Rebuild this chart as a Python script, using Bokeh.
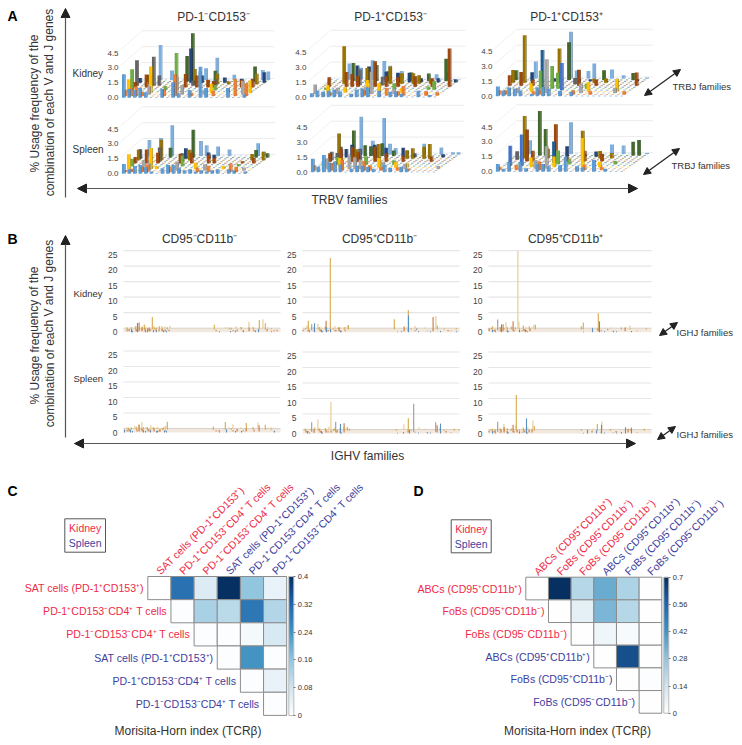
from bokeh.plotting import figure
from bokeh.embed import file_html
from bokeh.resources import INLINE
from bokeh.models import Range1d, ColumnDataSource, LinearColorMapper, ColorBar, FixedTicker, Arrow, NormalHead
from bokeh.core.properties import value

FONT = "Liberation Sans"
W, H = 740, 742

# ---------- Panel A: (V family, J family, % usage) ----------
TRBJ_COLORS = ["#5B9BD5", "#ED7D31", "#A5A5A5", "#FFC000", "#4472C4", "#70AD47", "#255E91",
               "#9E480E", "#636363", "#997300", "#264478", "#43682B", "#7CAFDD"]
A_kidney_neg = [(0,0,2.2),(1,0,.8),(2,0,.7),(3,0,.9),(4,0,.5),(7,0,.8),(9,0,1.45),(10,0,.4),(12,0,.7),(14,0,2.9),(15,0,.9),(19,0,.9),(22,0,.3),
 (0,1,.6),(1,1,.75),(2,1,.9),(3,1,.4),(7,1,.65),(9,1,2.05),(12,1,.3),(16,1,.5),(20,1,1.6),(22,1,1.2),
 (0,3,1.3),(4,3,2.5),(8,3,.35),(15,3,.85),(22,3,1.2),(18,3,.4),(4,2,.75),(9,2,1.7),(10,2,.9),(21,2,1.3),(14,2,.4),
 (0,5,1.97),(8,5,3.5),(15,5,.5),(6,5,.4),(0,8,2.4),(3,8,2.75),(4,8,.97),(10,8,.5),(14,8,.6),
 (0,7,.5),(2,7,1.2),(9,7,1.25),(11,7,1.1),(13,7,.7),(14,7,.6),(19,7,.7),(21,7,.8),
 (0,10,.45),(9,10,3.25),(11,10,.7),(15,10,.5),(22,10,1.0),(18,10,.4),(1,11,.6),(8,11,2.4),(9,11,4.55),(13,11,1.0),(20,11,1.4),
 (2,9,.9),(10,9,1.45),(14,9,1.0),(16,9,.3),(21,9,1.0),(3,12,3.3),(5,12,.9),(10,12,.8),(11,12,1.1),(13,12,2.1),(16,12,.5),(21,12,.95),(22,12,.8)]
A_kidney_pos_neg = [(0,0,.35),(1,0,.6),(2,0,.5),(3,0,.6),(4,0,.7),(5,0,.5),(7,0,.3),(8,0,.7),(9,0,.8),(10,0,.9),(12,0,.6),(14,0,.5),(15,0,.5),(16,0,.3),(19,0,.6),(21,0,.2),
 (3,1,.3),(9,1,.5),(13,1,.7),(15,1,.4),(16,1,.9),(20,1,.4),(22,1,.3),(0,2,.9),(4,2,.6),(9,2,.7),(10,2,2.1),(14,2,.5),
 (2,3,.7),(5,3,.5),(9,3,1.2),(11,3,.9),(15,3,.4),(1,5,.2),(13,5,.6),(19,5,.3),(20,5,.8),
 (1,7,.9),(4,7,1.4),(5,7,1.2),(6,7,1.0),(9,7,2.4),(11,7,1.0),(13,7,.9),(16,7,1.0),(19,7,.8),(22,7,3.6),
 (3,9,3.55),(7,9,1.5),(11,9,1.6),(13,9,1.0),(15,9,1.0),(16,9,.8),(18,9,.4),(4,11,1.7),(8,11,1.5),(10,11,.9),(14,11,.8),(17,11,.7),(20,11,2.1),
 (5,10,1.6),(7,10,1.5),(10,10,1.0),(12,10,.9),(14,10,.9),(16,10,.4),(19,10,.4),(22,10,.3),
 (3,12,1.5),(5,12,1.1),(7,12,1.8),(9,12,1.75),(10,12,1.3),(12,12,.8),(14,12,.2),(18,12,.5),(20,12,.7),(6,8,1.5),(10,8,.8)]
A_kidney_pos_pos = [(0,0,.9),(1,0,.5),(2,0,.8),(3,0,.7),(4,0,.5),(6,0,.2),(7,0,.8),(8,0,.85),(9,0,.7),(10,4,2.55),(11,0,.5),(13,0,.4),
 (0,1,.4),(1,1,.4),(6,1,.3),(7,1,.5),(13,1,.4),(16,1,.3),(22,1,.3),(3,2,.5),(14,2,.9),(20,2,.5),(8,2,3.2),
 (5,3,.8),(15,3,.9),(20,3,1.2),(6,5,1.7),(8,5,2.15),(9,5,1.5),(14,5,.5),(2,9,4.5),(8,9,3.25),(0,9,1.2),(14,9,.4),(16,9,.4),
 (9,11,3.55),(0,11,.9),(15,11,.9),(20,11,.65),(3,10,.85),(9,12,4.4),(3,12,1.6),(6,6,3.5),(10,12,.75),(12,12,.7),(13,12,1.4),(16,12,.85),(18,12,.3),(22,12,.1),
 (0,7,1.0),(2,7,1.3),(4,7,.6),(12,7,1.5),(15,7,.6),(22,7,1.25),(11,10,.2),(13,10,.2),(21,10,.2),(7,10,.3),(11,8,.6)]
A_spleen_neg = [(0,0,.9),(1,0,.4),(2,0,.7),(3,0,.8),(4,0,.6),(5,0,.2),(7,0,.5),(8,0,.8),(9,0,.8),(10,0,.5),(11,0,.3),(12,0,.4),(13,0,.2),(14,0,.3),(15,0,.2),(16,0,.3),(17,0,.4),(19,0,.4),(20,0,.3),(22,0,.2),
 (0,1,.2),(1,1,.3),(3,1,.5),(4,1,.7),(8,1,.5),(13,1,.4),(19,1,.8),(15,1,.6),(20,1,.5),(0,3,1.4),(5,3,.3),(4,3,2.0),(12,3,.6),(17,3,.3),
 (0,5,.7),(9,5,1.0),(19,5,.2),(14,2,.6),(3,2,1.0),(4,2,.7),(9,2,.8),(21,2,.3),
 (0,7,.6),(2,7,1.3),(4,7,1.0),(8,7,.9),(10,7,1.0),(13,7,.8),(14,7,.5),(19,7,.2),(21,7,.5),(4,8,1.35),(8,8,.8),
 (0,9,1.0),(4,9,1.95),(9,9,1.0),(22,9,.8),(20,9,.6),(0,10,.9),(8,10,1.0),(12,10,.6),(13,10,.4),
 (9,11,2.6),(5,11,.9),(20,11,.7),(22,11,.4),(1,12,1.5),(3,12,1.7),(5,12,2.9),(10,12,1.4),(11,12,1.0),(13,12,.9),(15,12,.6),(20,12,1.2),(21,12,.4)]
A_spleen_pos_neg = [(0,0,1.25),(1,0,.5),(2,0,1.6),(3,0,.9),(4,0,1.0),(5,0,.7),(7,0,.3),(8,0,.6),(9,0,.6),(10,0,.5),(11,0,.3),(13,0,.7),(14,0,.4),(16,0,.5),(17,0,.3),
 (0,1,.5),(3,1,.7),(5,1,1.0),(9,1,.9),(10,1,.5),(12,1,.3),(15,1,.3),(17,1,.2),(1,3,.6),(4,3,.9),(11,3,.9),(14,3,.5),(16,3,.4),
 (2,2,1.0),(6,2,1.3),(7,2,1.1),(8,2,.9),(12,2,.7),(22,2,.3),(16,2,.5),(3,5,.7),(8,5,.8),(13,5,.4),
 (1,7,.8),(3,7,1.2),(5,7,1.4),(6,7,.9),(9,7,1.4),(11,7,.8),(14,7,.6),(19,7,.5),(1,8,.8),(2,8,.7),(6,8,1.1),
 (2,9,2.4),(5,9,.9),(9,9,1.4),(14,9,.8),(15,9,1.0),(17,9,1.15),(18,9,1.4),(2,10,1.0),(3,10,.8),(4,10,1.2),(8,10,1.2),(10,10,.9),(13,10,.9),(15,10,.4),(20,10,.3),
 (4,11,2.4),(6,11,1.0),(7,11,.9),(9,11,1.2),(11,11,.5),(5,12,3.55),(7,12,1.3),(9,12,3.45),(10,12,1.0),(11,12,.6),(13,12,.3),(16,12,1.0),(19,12,.65),(21,12,.2),(22,12,.2)]
A_spleen_pos_pos = [(0,0,.7),(1,0,.25),(2,0,.9),(4,0,.9),(5,0,.3),(7,0,.7),(8,0,.7),(9,0,.5),(11,0,.6),(12,0,1.4),(14,0,.5),(15,0,.4),(17,0,1.1),(19,0,.25),
 (2,9,4.0),(4,11,4.2),(3,4,2.95),(1,4,1.87),(3,7,3.0),(5,11,2.5),(8,7,3.5),(9,12,3.0),(12,9,2.6),(14,3,2.75),(2,12,1.3),(8,6,2.0),(8,2,2.1),(9,5,1.3),(9,10,1.0),
 (16,12,.9),(18,12,.8),(20,11,1.3),(21,11,1.45),(22,12,.1),(15,9,.7),(17,3,.5),(19,5,.3),(4,7,1.0),(1,8,.8),(0,1,.3),(3,1,.5),(7,1,.8),(15,1,.5),(18,1,.3),
 (5,3,.9),(9,3,1.0),(6,2,.8),(11,5,.5),(10,7,.4),(13,7,1.0),(16,7,.7),(14,10,.5),(12,10,.3),(17,9,.5),(6,9,.9),(2,10,.9)]
A_ticks = [0.0, 1.5, 3.0, 4.5]

# ---------- Panel B: (V gene index, J family, % usage) ----------
IGHJ_COLORS = ["#5B8FBF", "#C9793F", "#9A9A9A", "#D4A94A", "#E3C98F"]
B_kidney_neg = [(2,3,.5),(5,1,.7),(8,0,1.0),(10,3,1.0),(12,1,.6),(14,0,3.0),(15,1,2.8),(17,3,.9),(19,3,1.6),(21,1,1.0),(23,2,.7),(24,0,.9),(25,1,1.2),(27,3,4.0),(28,4,.8),(30,0,.7),(32,1,.9),(34,3,1.0),(36,4,.8),(38,1,.7),(40,0,.6),(42,3,.7),(44,4,.9),(45,1,.5),
 (89,3,1.5),(100,4,.5),(104,3,.4),(107,0,.4),(110,4,.7),(113,1,.6),(116,3,.8),(120,0,.4),(123,4,2.2),(125,1,1.2),(128,3,.6),(132,0,.5),(134,3,3.0),(135,0,1.0),(137,4,3.0),(140,3,2.0),(143,1,.7),(148,0,.3),(153,1,.4)]
B_kidney_pos_neg = [(0,1,.5),(2,4,1.0),(4,3,2.8),(6,1,.6),(8,2,2.0),(10,3,.7),(12,0,2.9),(13,4,1.5),(15,3,.8),(17,1,.6),(19,0,.8),(21,3,1.0),(23,1,3.4),(24,0,1.5),(26,3,23.0),(28,0,1.0),(30,4,.8),(32,1,.5),(34,3,.6),(36,1,1.2),(38,0,.4),(40,3,.7),(42,1,.5),(43,4,1.0),(44,3,1.4),
 (90,3,3.3),(99,0,.3),(101,1,1.5),(104,3,6.3),(105,1,.6),(106,0,5.4),(110,4,.9),(113,2,.7),(130,1,4.6),(131,4,4.0),(133,3,1.3),(138,0,.4),(145,1,.4),(152,3,.4),(154,0,.3)]
B_kidney_pos_pos = [(0,1,1.0),(2,3,1.0),(4,0,.8),(6,1,.6),(8,2,3.5),(10,3,.8),(12,1,1.0),(13,0,2.5),(14,1,2.3),(15,4,2.0),(17,3,.7),(19,0,.5),(21,3,.9),(24,1,3.2),(25,3,.7),(27,4,25.0),(28,4,2.2),(31,0,.8),(33,3,1.3),(35,1,.7),(37,0,.9),(39,3,1.0),(41,1,.8),(43,4,1.2),(45,3,1.5),
 (91,3,1.0),(93,3,2.2),(104,0,1.3),(108,3,5.2),(109,1,.8),(111,0,3.5),(118,2,.5),(125,0,.4),(131,3,.6),(136,1,1.2),(139,4,1.0),(143,0,.4),(156,3,.4)]
B_spleen_neg = [(1,0,1.0),(3,3,.7),(5,1,.8),(7,0,.9),(9,4,1.0),(11,3,.8),(13,4,1.2),(15,1,2.3),(16,4,2.2),(18,3,.9),(20,0,.7),(22,3,.9),(24,1,.8),(25,4,1.1),(27,0,.7),(28,3,.8),(30,1,.7),(32,4,.6),(34,0,.6),(36,1,.7),(38,3,.8),(40,4,1.0),(41,0,.6),(42,3,2.6),
 (88,3,1.0),(95,1,.5),(100,3,2.5),(103,0,1.0),(107,4,1.4),(113,1,.8),(118,0,.5),(121,3,2.2),(122,1,1.0),(128,3,.7),(132,4,2.0),(135,1,2.0),(140,3,1.6),(145,4,.5),(151,0,.5)]
B_spleen_pos_neg = [(1,3,.7),(3,1,.7),(5,0,.8),(7,3,.8),(8,2,3.0),(10,4,.9),(11,1,1.2),(13,4,3.3),(15,3,.8),(17,1,.7),(19,0,.7),(21,3,.9),(23,1,.8),(24,4,1.0),(26,4,9.0),(28,1,.7),(30,3,.8),(32,2,3.2),(34,1,.8),(36,3,.8),(38,0,3.1),(39,4,1.0),(41,1,3.0),(43,3,1.2),(45,3,.7),
 (92,3,.5),(99,4,1.8),(101,0,.5),(104,3,4.0),(105,1,.7),(107,0,1.2),(110,2,9.0),(114,4,.7),(125,0,.4),(132,2,3.0),(134,1,2.4),(136,3,1.0),(138,0,3.2),(143,1,.5),(150,3,.6),(155,3,.4)]
B_spleen_pos_pos = [(0,1,.7),(2,3,.6),(4,0,.8),(6,1,.9),(8,2,3.2),(10,3,.7),(12,1,.9),(13,4,1.9),(15,1,1.8),(17,3,.8),(19,0,.6),(21,3,.7),(24,1,2.5),(25,4,1.5),(26,3,11.5),(28,1,.8),(31,0,.7),(33,3,1.0),(35,1,.9),(37,4,.8),(38,0,4.9),(40,1,.9),(42,4,3.0),(43,1,.9),(44,3,1.5),
 (91,3,.5),(99,0,1.2),(103,1,.6),(107,3,2.2),(108,0,1.0),(111,4,2.7),(113,0,2.8),(120,3,.5),(127,1,.5),(133,0,.5),(137,0,2.0),(139,1,1.2),(141,3,1.0),(143,0,1.7),(154,3,.6)]
B_low_dense = [(1,4,.5),(3,1,.6),(6,3,.8),(9,0,.5),(11,4,.7),(13,1,.7),(16,3,.6),(18,1,.8),(20,4,.6),(22,0,.5),(26,1,.7),(29,3,.6),(31,4,.5),(33,0,.5),(35,1,.6),(37,3,.5),(39,4,.7),(41,1,.6),(43,0,.5),
 (92,1,.4),(96,0,.3),(103,4,.4),(106,3,.5),(109,1,.4),(112,0,.5),(115,4,.5),(119,1,.4),(127,4,.5),(130,1,.5),(142,4,.4),(146,3,.3),(150,1,.3)]
B_low_sparse = [(1,3,.4),(3,4,.3),(5,1,.4),(7,0,.3),(9,4,.4),(11,1,.3),(14,3,.4),(16,4,.3),(18,1,.5),(20,0,.3),(22,4,.4),(25,1,.4),(29,3,.4),(33,1,.3),(35,4,.5),(37,1,.4),(39,0,.3),(41,4,.5),
 (95,0,.2),(102,4,.3),(107,3,.3),(112,1,.3),(116,0,.3),(120,4,.3),(124,1,.2),(128,0,.3),(135,4,.3),(140,3,.3),(148,1,.2)]
B_ticks = [0, 5, 10, 15, 20, 25]

# ---------- Panels C and D: upper triangles ----------
C_rows = ["SAT cells (PD-1⁺CD153⁺)", "PD-1⁺CD153⁻CD4⁺ T cells", "PD-1⁻CD153⁻CD4⁺ T cells"] * 2
D_rows = ["ABCs (CD95⁺CD11b⁺)", "FoBs (CD95⁺CD11b⁻)", "FoBs (CD95⁻CD11b⁻)"] * 2
C_values = [[0.0, .30, .06, .40, .16, .04],
            [0.005, .13, .11, .29, .12],
            [0.005, .005, .02, .07],
            [0.005, .24, .005],
            [0.005, .04],
            [0.005]]
D_values = [[0.0, .70, .20, .35, .22, .005],
            [0.005, .08, .32, .20, .005],
            [0.005, .05, .03, .005],
            [0.005, .62, .005],
            [0.005, .01],
            [0.005]]
C_scale = [0, .08, .16, .24, .32, .4]
D_scale = [0, .14, .28, .42, .56, .7]
BLUES = ["#FFFFFF", "#D1E5F0", "#92C5DE", "#4393C3", "#2166AC", "#053061"]
RED, BLUE, INK = "#EE2B47", "#3E3E9E", "#333333"

p = figure(width=W, height=H, x_range=Range1d(0, W), y_range=Range1d(H, 0),
           x_axis_location=None, y_axis_location=None, min_border=0, tools="",
           toolbar_location=None, output_backend="svg", outline_line_color=None)
p.grid.grid_line_color = None
p.background_fill_color = "white"


def panel(name, px0, py0, sx, sy):
    p.extra_x_ranges[name] = Range1d(-px0 / sx, (W - px0) / sx)
    p.extra_y_ranges[name] = Range1d((py0 - H) / sy, py0 / sy)
    return dict(x_range_name=name, y_range_name=name)


def label(x, y, t, size=12, color=INK, align="center", angle=0, style="normal", base="middle", **kw):
    p.text([x], [y], text=[t], text_font=value(FONT), text_font_size=f"{size}px", text_color=color,
           text_align=align, text_baseline=base, angle=angle, text_font_style=style, **kw)


def shade(c, f=0.72):
    return "#%02X%02X%02X" % tuple(int(int(c[i:i + 2], 16) * f) for i in (1, 3, 5))


def bars_3d(name, data, px0, py0, width):
    r = panel(name, px0, py0, width / 23.0, 10.6)
    DX, DY, NV, NJ = 0.30, 0.138, 23, 13
    X = lambda v, j: v * (1 + 0.003 * j) + j * DX
    gl, gb, gr = -0.5 + NJ * DX, NJ * DY, 23.6 + NJ * DX
    for t in A_ticks:
        p.segment([gl], [gb + t], [gr], [gb + t], line_color="#ECECEC", line_width=1, **r)
        p.segment([-0.5], [t], [gl], [gb + t], line_color="#F1F1F1", line_width=1, **r)
    lut = {(v, j): h for v, j, h in data}
    x0, x1, yy, cc = [], [], [], []
    for j in range(NJ - 1, -1, -1):
        for v in range(NV):
            x0.append(X(v, j) - .2); x1.append(X(v, j) + .2); yy.append(j * DY); cc.append(TRBJ_COLORS[j])
    p.segment(x0, yy, x1, yy, line_color=cc, line_width=0.8, line_alpha=0.75, **r)
    L, R, B, T, C = [], [], [], [], []
    for j in range(NJ - 1, -1, -1):
        for v in range(NV):
            h = lut.get((v, j))
            if not h:
                continue
            x = X(v, j)
            L += [x + .24, x - .28]; R += [x + .38, x + .24]
            B += [j * DY, j * DY]; T += [j * DY + h, j * DY + h]
            C += [shade(TRBJ_COLORS[j]), TRBJ_COLORS[j]]
    p.quad(left=L, right=R, bottom=B, top=T, fill_color=C, line_color=None, **r)
    for t in A_ticks:
        label(-0.9, t * .93, f"{t:.1f}", size=8, color="#444444", align="right", **r)


def spikes(name, data, px0, py0, width):
    r = panel(name, px0, py0, 1, 3.1)
    back = 4 / 3.1
    for t in B_ticks[1:]:
        p.segment([0], [back + t], [width], [back + t], line_color="#E6E6E6", line_width=1.2, **r)
    p.quad(left=[0], right=[width], bottom=[0], top=[back], fill_color="#F2E8DD", line_color=None, **r)
    p.segment([0], [back], [width], [back], line_color="#D8D2CA", line_width=1, **r)
    data = sorted(data, key=lambda d: -d[1])
    xs = [v + j * .6 for v, j, h in data]
    y0 = [j * .3 for v, j, h in data]
    y1 = [j * .3 + h for v, j, h in data]
    p.segment(xs, y0, xs, y1, line_color=[IGHJ_COLORS[j] for v, j, h in data], line_width=1.1, **r)
    for t in B_ticks:
        label(-6, t, str(t), size=8.5, color="#444444", align="right", **r)


def arrow(x0, y0, x1, y1, both=False, color="#555555", size=9, width=1.2):
    p.add_layout(Arrow(x_start=x0, y_start=y0, x_end=x1, y_end=y1, line_color=color, line_width=width,
                       end=NormalHead(size=size, fill_color="#222222", line_color="#222222"),
                       start=NormalHead(size=size, fill_color="#222222", line_color="#222222") if both else None))


def heat(name, rows, values, scale, xs0, ys0, step, color_bar_x, bar_h):
    r = panel(name, xs0, ys0, step, -step)
    L, R, T, B, V = [], [], [], [], []
    for i, row in enumerate(values):
        for k, val in enumerate(row):
            c = i + k
            L.append(c); R.append(c + 1); T.append(i); B.append(i + 1); V.append(val)
    mapper = LinearColorMapper(palette=palette, low=scale[0], high=scale[-1])
    src = ColumnDataSource(dict(l=L, r=R, t=T, b=B, v=V))
    p.quad(left="l", right="r", top="t", bottom="b", fill_color={"field": "v", "transform": mapper},
           line_color="#8C8C8C", line_width=1, source=src, **r)
    for i, t in enumerate(rows):
        col = RED if i < 3 else BLUE
        label(i - 4 / step, i + .5, t, size=10.6, color=col, align="right", **r)
        label(i + .5 - 1.5 / step, -4 / step, t, size=10.6, color=col, align="left", angle=0.785, **r)
    cb = ColorBar(color_mapper=mapper, location=(color_bar_x, H - (ys0 + bar_h)), width=5, height=bar_h,
                  padding=0, margin=0, ticker=FixedTicker(ticks=scale), bar_line_color="#BBBBBB",
                  major_tick_line_color="#777777", major_tick_in=0, major_tick_out=2, label_standoff=2,
                  major_label_text_font=FONT, major_label_text_font_size="7.5px", major_label_text_color="#333333",
                  major_label_overrides={s: ("0" if s == 0 else f"{s:g}") for s in scale}, background_fill_alpha=0, border_line_color=None)
    p.add_layout(cb, "center")


def lerp(a, b, t):
    return tuple(int(round(a[i] + (b[i] - a[i]) * t)) for i in range(3))


rgb = [tuple(int(c[i:i + 2], 16) for i in (1, 3, 5)) for c in BLUES]
palette = []
for n in range(256):
    t = n / 255 * (len(rgb) - 1)
    i = min(int(t), len(rgb) - 2)
    palette.append("#%02X%02X%02X" % lerp(rgb[i], rgb[i + 1], t - i))

# Panel letters
for x, y, t in [(7, 15, "A"), (7, 238, "B"), (7, 490, "C"), (413, 490, "D")]:
    label(x, y, t, size=14, color="#000000", align="left", style="bold")

# Panel A
for x, t in [(213, "PD-1⁻CD153⁻"), (390, "PD-1⁺CD153⁻"), (566, "PD-1⁺CD153⁺")]:
    label(x, 16, t, size=12)
label(72, 73, "Kidney", size=10, align="left")
label(72, 149, "Spleen", size=10, align="left")
bars_3d("a1", A_kidney_neg, 123, 97, 126)
bars_3d("a2", A_kidney_pos_neg, 311, 96.5, 129)
bars_3d("a3", A_kidney_pos_pos, 497, 95.5, 130)
bars_3d("a4", A_spleen_neg, 123, 173, 127)
bars_3d("a5", A_spleen_pos_neg, 312, 171.5, 127)
bars_3d("a6", A_spleen_pos_pos, 497, 171, 130)
label(34, 103, "% Usage frequency of the", size=12, angle=1.5708)
label(49, 102, "combination of each V and J genes", size=12, angle=1.5708)
arrow(65, 197, 65, 8)
arrow(637, 188, 77, 188, both=True)
label(349, 199, "TRBV families", size=12)
arrow(644, 95, 680, 69, both=True, color="#222222", size=7)
arrow(643, 174, 679, 148, both=True, color="#222222", size=7)
label(672, 86, "TRBJ families", size=9.5, align="left")
label(671, 165, "TRBJ families", size=9.5, align="left")

# Panel B
for x, t in [(199, "CD95⁻CD11b⁻"), (379, "CD95⁺CD11b⁻"), (565, "CD95⁺CD11b⁺")]:
    label(x, 238, t, size=12)
label(73, 293, "Kidney", size=9.5, align="left")
label(73, 378, "Spleen", size=9.5, align="left")
spikes("b1", B_kidney_neg + B_low_dense, 123, 331.7, 157)
spikes("b2", B_kidney_pos_neg + B_low_sparse, 302, 331.7, 157)
spikes("b3", B_kidney_pos_pos + B_low_sparse, 488, 331.7, 163)
spikes("b4", B_spleen_neg + B_low_dense, 123, 432, 157)
spikes("b5", B_spleen_pos_neg + B_low_sparse, 302, 433, 157)
spikes("b6", B_spleen_pos_pos + B_low_sparse, 488, 433, 163)
label(34, 335, "% Usage frequency of the", size=12, angle=1.5708)
label(49, 333, "combination of each V and J genes", size=12, angle=1.5708)
arrow(65, 437, 65, 235)
arrow(635, 443, 74, 443, both=True)
label(367, 455, "IGHV families", size=12)
arrow(659, 335, 677, 322, both=True, color="#222222", size=7)
arrow(657, 439, 675, 426, both=True, color="#222222", size=7)
label(676, 332, "IGHJ families", size=9.5, align="left")
label(676, 434, "IGHJ families", size=9.5, align="left")

# Panels C, D
heat("c", C_rows, C_values, C_scale, 147.3, 576, 23.15, 288.3, 139)
heat("d", D_rows, D_values, D_scale, 525.3, 576.7, 22.67, 663.3, 136)
for x0, y0, x1, y1 in [(64.3, 518.3, 105, 551.7), (450.7, 519.3, 490.7, 552.3)]:
    p.quad(left=[x0], right=[x1], top=[y0], bottom=[y1], fill_color=None, line_color="#555555", line_width=1)
    label((x0 + x1) / 2, y0 + 9.6, "Kidney", size=10.5, color=RED)
    label((x0 + x1) / 2, y0 + 24.5, "Spleen", size=10.5, color=BLUE)
label(187.5, 730, "Morisita-Horn index (TCRβ)", size=12)
label(577, 730, "Morisita-Horn index (TCRβ)", size=12)

open("out.html", "w").write(file_html(p, INLINE))
